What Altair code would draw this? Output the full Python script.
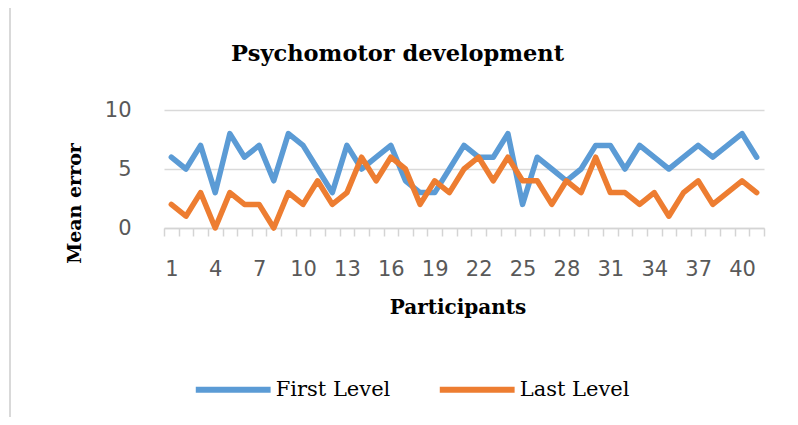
import altair as alt
import pandas as pd

participants = list(range(1, 42))
first_level = [6, 5, 7, 3, 8, 6, 7, 4, 8, 7, 5, 3, 7, 5, 6, 7, 4, 3, 3, 5, 7,
               6, 6, 8, 2, 6, 5, 4, 5, 7, 7, 5, 7, 6, 5, 6, 7, 6, 7, 8, 6]
last_level = [2, 1, 3, 0, 3, 2, 2, 0, 3, 2, 4, 2, 3, 6, 4, 6, 5, 2, 4, 3, 5,
              6, 4, 6, 4, 4, 2, 4, 3, 6, 3, 3, 2, 3, 1, 3, 4, 2, 3, 4, 3]
series_names = ["First Level", "Last Level"]
series_colors = ["#5B9BD5", "#ED7D31"]
y_ticks = [0, 5, 10]

rows = []
for name, vals in zip(series_names, [first_level, last_level]):
    for p, v in zip(participants, vals):
        rows.append({"Participant": p, "Mean error": v, "Series": name})
df = pd.DataFrame(rows)

W, H = 600, 118
n = len(participants)
step = W / n
tick_vals = [i + 0.5 for i in range(0, n + 1)]

label_font = "DejaVu Sans"
serif = "DejaVu Serif"

lines = alt.Chart(df).mark_line(strokeWidth=5.5, strokeCap="round", strokeJoin="round").encode(
    x=alt.X("Participant:Q",
            scale=alt.Scale(domain=[0.5, n + 0.5], nice=False, zero=False),
            axis=alt.Axis(
                title="Participants",
                values=tick_vals,
                labelExpr="((datum.value - 0.5) % 3 == 0) ? format(datum.value + 0.5, 'd') : ''",
                labelOffset=step / 2,
                labelOverlap=False, labelFlush=False, labelBound=False,
                labelFont=label_font, labelFontSize=21, labelColor="#595959",
                labelBaseline="alphabetic", labelPadding=39,
                tickSize=8, tickColor="#d4d4d4", tickWidth=1.5,
                domainColor="#d4d4d4", domainWidth=1.5,
                grid=False,
                titleFont=serif, titleFontSize=20, titleFontWeight="bold", titleColor="black",
                titleX=293.5, titleY=85, titleBaseline="alphabetic", titleAlign="center",
            )),
    y=alt.Y("Mean error:Q",
            scale=alt.Scale(domain=[0, 10], nice=False),
            axis=alt.Axis(
                title="Mean error",
                values=y_ticks,
                ticks=False, domain=False,
                grid=True, gridColor="#d9d9d9", gridWidth=1.5,
                labelFont=label_font, labelFontSize=21, labelColor="#595959",
                labelPadding=33,
                titleFont=serif, titleFontSize=19, titleFontWeight="bold", titleColor="black",
                titleAngle=270, titleX=-90, titleY=93, titleAlign="center", titleBaseline="middle",
            )),
    color=alt.Color("Series:N",
                    scale=alt.Scale(domain=series_names, range=series_colors),
                    legend=alt.Legend(
                        title=None, orient="none", direction="horizontal",
                        legendX=28.7, legendY=239,
                        symbolType="stroke", symbolStrokeWidth=6, symbolSize=5600,
                        labelFont=serif, labelFontSize=21, labelColor="black",
                        labelOffset=2, columnPadding=37, padding=0,
                    )),
)

frame = alt.Chart(pd.DataFrame({"a": [0]})).mark_rule(color="#d9d9d9", strokeWidth=2).encode(
    x=alt.value(-154), y=alt.value(-110), y2=alt.value(H + 189)
)

chart = alt.layer(frame, lines).properties(
    width=W, height=H,
    padding={"left": 156, "top": 102, "right": 26, "bottom": 189},
    autosize=alt.AutoSizeParams(type="none"),
    title=alt.TitleParams(
        text="Psychomotor development", font=serif, fontSize=22.5, fontWeight="bold",
        color="black", anchor="middle", dx=-66.5, offset=-84, baseline="alphabetic",
    ),
).configure_view(stroke=None)

chart.save("out.html", embed_options={"renderer": "svg", "actions": False})
